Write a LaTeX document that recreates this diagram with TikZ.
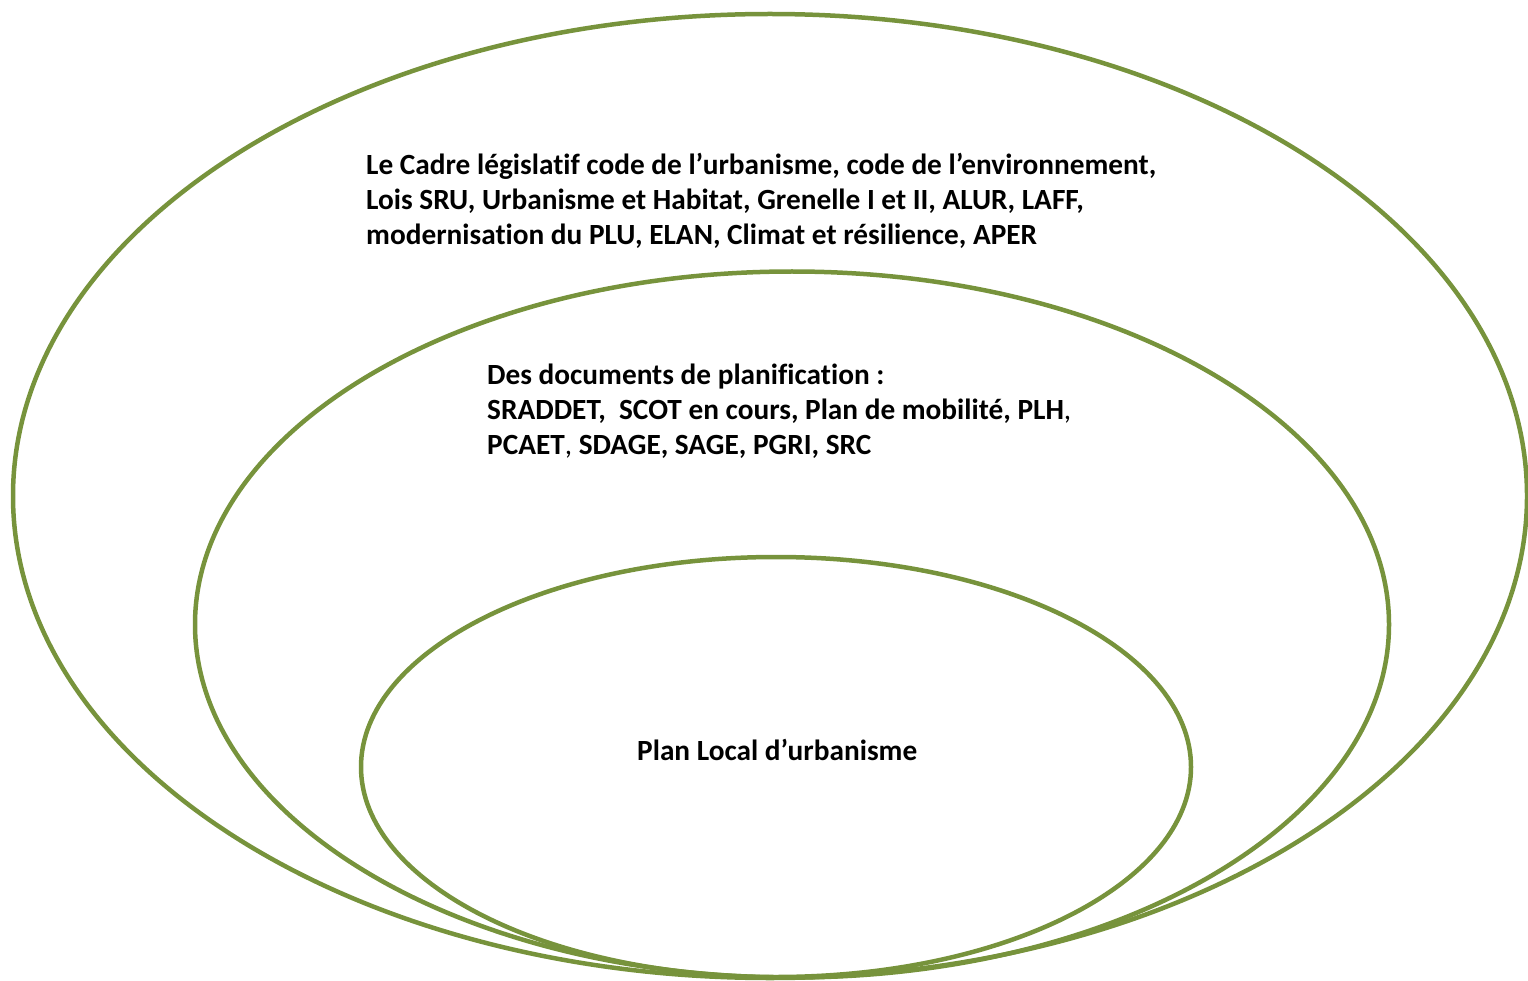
\documentclass[tikz,border=0pt]{standalone}
\usepackage{fontspec}
\setmainfont{Carlito}[Ligatures={NoCommon}]
\usetikzlibrary{shapes.geometric}
\definecolor{olivegr}{HTML}{77933C}
\tikzset{
  ring/.style={ellipse, draw=olivegr, line width=4.5pt, inner sep=0pt, outer sep=0pt},
  label/.style={anchor=north west, inner sep=0pt, align=left, font=\fontsize{29.3}{35}\selectfont\bfseries}
}
\begin{document}
\begin{tikzpicture}[x=1pt,y=-1pt]
\useasboundingbox (0,0) rectangle (1528,981);
\node[ring, minimum width=1514pt, minimum height=964pt] (outer) at (770,496) {};
\node[ring, minimum width=1194pt, minimum height=706pt] (middle) at (792,624.5) {};
\node[ring, minimum width=830pt, minimum height=420pt] (inner) at (776,767) {};
\node[label] (cadre) at (366,153) {Le Cadre législatif code de l’urbanisme, code de l’environnement,\\Lois SRU, Urbanisme et Habitat, Grenelle I et II, ALUR, LAFF,\\modernisation du PLU, ELAN, Climat et résilience, APER};
\node[label] (docs) at (487,364) {Des documents de planification :\\SRADDET,\ \ SCOT en cours, Plan de mobilité, PLH{\mdseries,}\\PCAET{\mdseries,} SDAGE, SAGE, PGRI, SRC};
\node[label] (plu) at (637,739) {Plan Local d’urbanisme};
\end{tikzpicture}
\end{document}
